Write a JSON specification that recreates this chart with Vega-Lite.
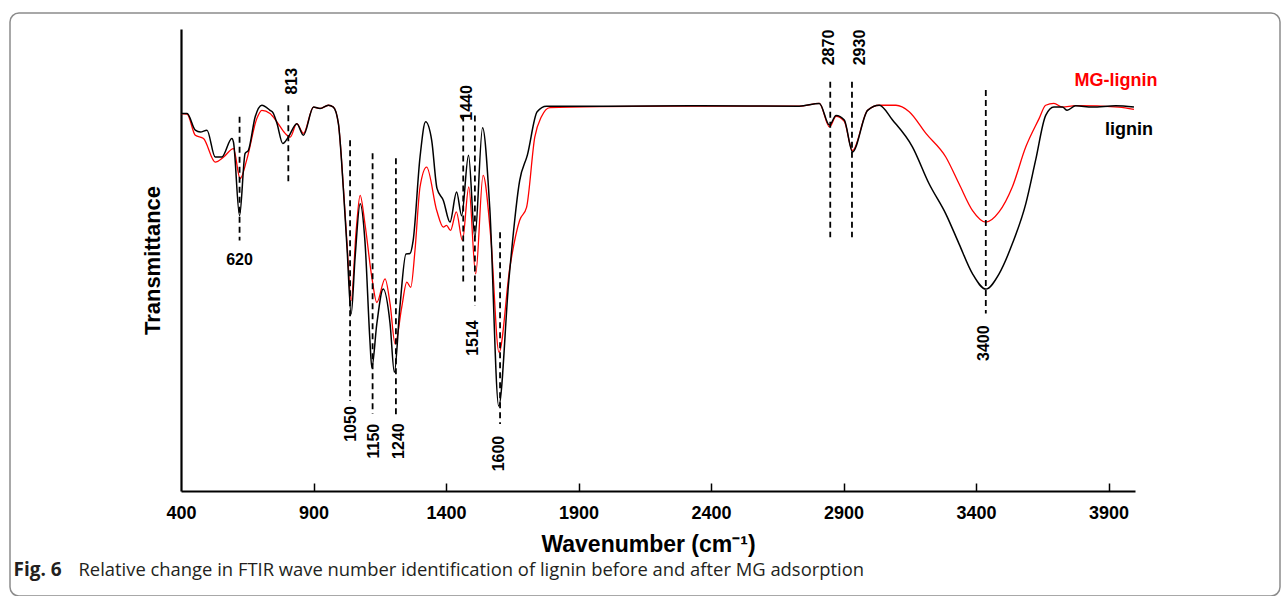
{
  "$schema": "https://vega.github.io/schema/vega-lite/v6.json",
  "width": 1270,
  "height": 583,
  "padding": {"left": 10, "top": 13, "right": 2, "bottom": 0},
  "autosize": {"type": "none"},
  "background": "white",
  "config": {
    "view": {"stroke": "#8c8c8c", "strokeWidth": 1.5, "cornerRadius": 9},
    "font": "Liberation Sans"
  },
  "datasets": {
    "spectra": [
      {"series": "lignin", "wn": 400, "t": 81.7},
      {"series": "lignin", "wn": 423, "t": 81.7},
      {"series": "lignin", "wn": 454, "t": 78.1},
      {"series": "lignin", "wn": 473, "t": 77.7},
      {"series": "lignin", "wn": 498, "t": 78.1},
      {"series": "lignin", "wn": 529, "t": 72.3},
      {"series": "lignin", "wn": 554, "t": 72.3},
      {"series": "lignin", "wn": 592, "t": 76.3},
      {"series": "lignin", "wn": 598, "t": 75.5},
      {"series": "lignin", "wn": 621, "t": 59.6},
      {"series": "lignin", "wn": 642, "t": 73.1},
      {"series": "lignin", "wn": 654, "t": 73.7},
      {"series": "lignin", "wn": 680, "t": 81.0},
      {"series": "lignin", "wn": 705, "t": 83.5},
      {"series": "lignin", "wn": 736, "t": 82.4},
      {"series": "lignin", "wn": 748, "t": 81.8},
      {"series": "lignin", "wn": 762, "t": 79.6},
      {"series": "lignin", "wn": 784, "t": 75.2},
      {"series": "lignin", "wn": 805, "t": 76.6},
      {"series": "lignin", "wn": 837, "t": 79.5},
      {"series": "lignin", "wn": 862, "t": 77.0},
      {"series": "lignin", "wn": 900, "t": 83.1},
      {"series": "lignin", "wn": 925, "t": 82.8},
      {"series": "lignin", "wn": 956, "t": 83.5},
      {"series": "lignin", "wn": 975, "t": 83.1},
      {"series": "lignin", "wn": 994, "t": 79.5},
      {"series": "lignin", "wn": 1013, "t": 65.1},
      {"series": "lignin", "wn": 1027, "t": 52.1},
      {"series": "lignin", "wn": 1042, "t": 38.3},
      {"series": "lignin", "wn": 1057, "t": 50.6},
      {"series": "lignin", "wn": 1076, "t": 62.2},
      {"series": "lignin", "wn": 1094, "t": 54.2},
      {"series": "lignin", "wn": 1113, "t": 32.5},
      {"series": "lignin", "wn": 1120, "t": 26.7},
      {"series": "lignin", "wn": 1139, "t": 36.2},
      {"series": "lignin", "wn": 1163, "t": 43.7},
      {"series": "lignin", "wn": 1189, "t": 36.2},
      {"series": "lignin", "wn": 1205, "t": 25.7},
      {"series": "lignin", "wn": 1226, "t": 39.8},
      {"series": "lignin", "wn": 1249, "t": 51.3},
      {"series": "lignin", "wn": 1264, "t": 51.4},
      {"series": "lignin", "wn": 1276, "t": 54.2},
      {"series": "lignin", "wn": 1302, "t": 72.3},
      {"series": "lignin", "wn": 1323, "t": 79.9},
      {"series": "lignin", "wn": 1346, "t": 75.9},
      {"series": "lignin", "wn": 1366, "t": 65.5},
      {"series": "lignin", "wn": 1390, "t": 62.9},
      {"series": "lignin", "wn": 1415, "t": 58.2},
      {"series": "lignin", "wn": 1440, "t": 64.7},
      {"series": "lignin", "wn": 1459, "t": 59.6},
      {"series": "lignin", "wn": 1485, "t": 72.7},
      {"series": "lignin", "wn": 1509, "t": 54.9},
      {"series": "lignin", "wn": 1538, "t": 78.6},
      {"series": "lignin", "wn": 1565, "t": 61.4},
      {"series": "lignin", "wn": 1599, "t": 18.4},
      {"series": "lignin", "wn": 1637, "t": 45.5},
      {"series": "lignin", "wn": 1678, "t": 67.2},
      {"series": "lignin", "wn": 1707, "t": 72.7},
      {"series": "lignin", "wn": 1744, "t": 82.1},
      {"series": "lignin", "wn": 1779, "t": 83.3},
      {"series": "lignin", "wn": 1980, "t": 83.3},
      {"series": "lignin", "wn": 2357, "t": 83.4},
      {"series": "lignin", "wn": 2733, "t": 83.3},
      {"series": "lignin", "wn": 2809, "t": 83.9},
      {"series": "lignin", "wn": 2847, "t": 79.2},
      {"series": "lignin", "wn": 2872, "t": 81.3},
      {"series": "lignin", "wn": 2903, "t": 80.3},
      {"series": "lignin", "wn": 2934, "t": 73.4},
      {"series": "lignin", "wn": 2991, "t": 82.4},
      {"series": "lignin", "wn": 3035, "t": 83.5},
      {"series": "lignin", "wn": 3085, "t": 80.3},
      {"series": "lignin", "wn": 3160, "t": 74.5},
      {"series": "lignin", "wn": 3223, "t": 66.5},
      {"series": "lignin", "wn": 3286, "t": 60.0},
      {"series": "lignin", "wn": 3336, "t": 53.5},
      {"series": "lignin", "wn": 3387, "t": 47.0},
      {"series": "lignin", "wn": 3437, "t": 43.7},
      {"series": "lignin", "wn": 3487, "t": 47.0},
      {"series": "lignin", "wn": 3537, "t": 53.5},
      {"series": "lignin", "wn": 3588, "t": 62.2},
      {"series": "lignin", "wn": 3625, "t": 71.6},
      {"series": "lignin", "wn": 3663, "t": 81.3},
      {"series": "lignin", "wn": 3694, "t": 83.1},
      {"series": "lignin", "wn": 3726, "t": 83.1},
      {"series": "lignin", "wn": 3744, "t": 82.4},
      {"series": "lignin", "wn": 3776, "t": 83.4},
      {"series": "lignin", "wn": 3839, "t": 83.1},
      {"series": "lignin", "wn": 3927, "t": 83.4},
      {"series": "lignin", "wn": 3996, "t": 83.1},
      {"series": "MG-lignin", "wn": 400, "t": 81.7},
      {"series": "MG-lignin", "wn": 423, "t": 81.6},
      {"series": "MG-lignin", "wn": 454, "t": 77.0},
      {"series": "MG-lignin", "wn": 485, "t": 76.3},
      {"series": "MG-lignin", "wn": 529, "t": 71.2},
      {"series": "MG-lignin", "wn": 561, "t": 72.3},
      {"series": "MG-lignin", "wn": 598, "t": 74.1},
      {"series": "MG-lignin", "wn": 623, "t": 67.6},
      {"series": "MG-lignin", "wn": 649, "t": 71.9},
      {"series": "MG-lignin", "wn": 686, "t": 80.6},
      {"series": "MG-lignin", "wn": 705, "t": 82.4},
      {"series": "MG-lignin", "wn": 736, "t": 81.7},
      {"series": "MG-lignin", "wn": 762, "t": 79.9},
      {"series": "MG-lignin", "wn": 793, "t": 77.4},
      {"series": "MG-lignin", "wn": 812, "t": 76.6},
      {"series": "MG-lignin", "wn": 837, "t": 79.5},
      {"series": "MG-lignin", "wn": 862, "t": 77.4},
      {"series": "MG-lignin", "wn": 900, "t": 83.1},
      {"series": "MG-lignin", "wn": 925, "t": 82.8},
      {"series": "MG-lignin", "wn": 956, "t": 83.5},
      {"series": "MG-lignin", "wn": 975, "t": 83.1},
      {"series": "MG-lignin", "wn": 994, "t": 79.5},
      {"series": "MG-lignin", "wn": 1013, "t": 65.5},
      {"series": "MG-lignin", "wn": 1027, "t": 53.1},
      {"series": "MG-lignin", "wn": 1042, "t": 41.2},
      {"series": "MG-lignin", "wn": 1061, "t": 56.4},
      {"series": "MG-lignin", "wn": 1076, "t": 64.0},
      {"series": "MG-lignin", "wn": 1094, "t": 57.9},
      {"series": "MG-lignin", "wn": 1120, "t": 46.3},
      {"series": "MG-lignin", "wn": 1139, "t": 40.8},
      {"series": "MG-lignin", "wn": 1170, "t": 45.9},
      {"series": "MG-lignin", "wn": 1189, "t": 40.5},
      {"series": "MG-lignin", "wn": 1208, "t": 31.8},
      {"series": "MG-lignin", "wn": 1233, "t": 39.8},
      {"series": "MG-lignin", "wn": 1252, "t": 45.2},
      {"series": "MG-lignin", "wn": 1267, "t": 44.1},
      {"series": "MG-lignin", "wn": 1283, "t": 52.1},
      {"series": "MG-lignin", "wn": 1302, "t": 65.8},
      {"series": "MG-lignin", "wn": 1327, "t": 70.1},
      {"series": "MG-lignin", "wn": 1365, "t": 60.7},
      {"series": "MG-lignin", "wn": 1390, "t": 57.1},
      {"series": "MG-lignin", "wn": 1402, "t": 57.5},
      {"series": "MG-lignin", "wn": 1417, "t": 56.4},
      {"series": "MG-lignin", "wn": 1439, "t": 60.4},
      {"series": "MG-lignin", "wn": 1462, "t": 54.2},
      {"series": "MG-lignin", "wn": 1486, "t": 65.8},
      {"series": "MG-lignin", "wn": 1512, "t": 47.0},
      {"series": "MG-lignin", "wn": 1540, "t": 68.3},
      {"series": "MG-lignin", "wn": 1569, "t": 54.9},
      {"series": "MG-lignin", "wn": 1600, "t": 30.0},
      {"series": "MG-lignin", "wn": 1641, "t": 48.4},
      {"series": "MG-lignin", "wn": 1678, "t": 58.6},
      {"series": "MG-lignin", "wn": 1704, "t": 61.4},
      {"series": "MG-lignin", "wn": 1735, "t": 76.6},
      {"series": "MG-lignin", "wn": 1760, "t": 81.0},
      {"series": "MG-lignin", "wn": 1792, "t": 83.0},
      {"series": "MG-lignin", "wn": 1980, "t": 83.2},
      {"series": "MG-lignin", "wn": 2357, "t": 83.3},
      {"series": "MG-lignin", "wn": 2733, "t": 83.3},
      {"series": "MG-lignin", "wn": 2809, "t": 83.9},
      {"series": "MG-lignin", "wn": 2847, "t": 78.8},
      {"series": "MG-lignin", "wn": 2872, "t": 81.1},
      {"series": "MG-lignin", "wn": 2903, "t": 80.0},
      {"series": "MG-lignin", "wn": 2934, "t": 73.7},
      {"series": "MG-lignin", "wn": 2991, "t": 82.4},
      {"series": "MG-lignin", "wn": 3035, "t": 83.5},
      {"series": "MG-lignin", "wn": 3098, "t": 83.5},
      {"series": "MG-lignin", "wn": 3148, "t": 82.1},
      {"series": "MG-lignin", "wn": 3211, "t": 77.4},
      {"series": "MG-lignin", "wn": 3286, "t": 72.3},
      {"series": "MG-lignin", "wn": 3336, "t": 66.5},
      {"series": "MG-lignin", "wn": 3387, "t": 60.7},
      {"series": "MG-lignin", "wn": 3437, "t": 58.2},
      {"series": "MG-lignin", "wn": 3487, "t": 60.4},
      {"series": "MG-lignin", "wn": 3537, "t": 65.8},
      {"series": "MG-lignin", "wn": 3588, "t": 74.5},
      {"series": "MG-lignin", "wn": 3638, "t": 80.6},
      {"series": "MG-lignin", "wn": 3663, "t": 83.5},
      {"series": "MG-lignin", "wn": 3694, "t": 83.9},
      {"series": "MG-lignin", "wn": 3726, "t": 83.1},
      {"series": "MG-lignin", "wn": 3776, "t": 83.4},
      {"series": "MG-lignin", "wn": 3939, "t": 83.1},
      {"series": "MG-lignin", "wn": 3996, "t": 82.6}
    ],
    "peaks": [
      {"label": "620", "rx": 621, "top": 81.0, "bot": 54.2, "tx": 621, "ty": 49.9},
      {"label": "813", "rx": 805, "top": 83.5, "bot": 66.6, "tx": 819, "ty": 88.7},
      {"label": "1050", "rx": 1038, "top": 75.9, "bot": 19.5, "tx": 1042, "ty": 14.5},
      {"label": "1150", "rx": 1123, "top": 73.1, "bot": 16.7, "tx": 1128, "ty": 10.8},
      {"label": "1240", "rx": 1211, "top": 72.0, "bot": 15.8, "tx": 1223, "ty": 10.8},
      {"label": "1440", "rx": 1465, "top": 81.3, "bot": 44.5, "tx": 1478, "ty": 84.0},
      {"label": "1514", "rx": 1509, "top": 81.3, "bot": 40.1, "tx": 1500, "ty": 33.1},
      {"label": "1600", "rx": 1604, "top": 56.0, "bot": 14.5, "tx": 1599, "ty": 8.1},
      {"label": "2870", "rx": 2850, "top": 88.6, "bot": 54.9, "tx": 2847, "ty": 96.0},
      {"label": "2930", "rx": 2932, "top": 88.6, "bot": 54.9, "tx": 2962, "ty": 96.0},
      {"label": "3400", "rx": 3437, "top": 86.8, "bot": 38.4, "tx": 3431, "ty": 32.0}
    ],
    "names": [
      {"series": "MG-lignin", "nx": 3928, "ny": 88.7},
      {"series": "lignin", "nx": 3977, "ny": 78.1}
    ]
  },
  "resolve": {"axis": {"x": "independent"}},
  "layer": [
    {
      "data": {"name": "spectra"},
      "transform": [{"filter": "datum.series === 'MG-lignin'"}],
      "mark": {"type": "line", "interpolate": "monotone", "strokeWidth": 1.3},
      "encoding": {
        "x": {
          "field": "wn", "type": "quantitative",
          "scale": {"domain": [400, 4000], "range": [171, 1125], "nice": false, "zero": false},
          "axis": {
            "orient": "bottom", "offset": -105,
            "values": [400, 900, 1400, 1900, 2400, 2900, 3400, 3900],
            "format": "d",
            "grid": false,
            "domainColor": "#000000", "domainWidth": 2.2,
            "ticks": false,
            "labelFont": "Liberation Sans", "labelFontSize": 18, "labelFontWeight": "bold",
            "labelColor": "#000000", "labelPadding": 13, "labelFlush": false, "labelOverlap": false,
            "title": "Wavenumber (cm⁻¹)",
            "titleFont": "Liberation Sans", "titleFontSize": 23, "titleFontWeight": "bold",
            "titleColor": "#000000", "titleX": 638, "titleY": 60,
            "titleAlign": "center", "titleBaseline": "alphabetic"
          }
        },
        "y": {
          "field": "t", "type": "quantitative", "title": "Transmittance",
          "scale": {"domain": [0, 100], "range": [478, 16], "nice": false, "zero": false},
          "axis": {
            "orient": "left", "offset": -171, "grid": false,
            "domainColor": "#000000", "domainWidth": 2.2,
            "ticks": false, "labels": false,
            "title": "Transmittance",
            "titleFont": "Liberation Sans", "titleFontSize": 22, "titleFontWeight": "bold",
            "titleColor": "#000000", "titlePadding": 17
          }
        },
        "color": {
          "field": "series", "type": "nominal",
          "scale": {"domain": ["MG-lignin", "lignin"], "range": ["#ff0000", "#000000"]},
          "legend": null
        }
      }
    },
    {
      "data": {"name": "spectra"},
      "transform": [{"filter": "datum.series === 'lignin'"}],
      "mark": {"type": "line", "interpolate": "monotone", "strokeWidth": 1.5},
      "encoding": {
        "x": {"field": "wn", "type": "quantitative",
          "scale": {"domain": [400, 4000], "range": [171, 1125], "nice": false, "zero": false},
          "axis": null},
        "y": {"field": "t", "type": "quantitative", "title": "Transmittance",
          "scale": {"domain": [0, 100], "range": [478, 16], "nice": false, "zero": false}},
        "color": {
          "field": "series", "type": "nominal",
          "scale": {"domain": ["MG-lignin", "lignin"], "range": ["#ff0000", "#000000"]},
          "legend": null
        }
      }
    },
    {
      "data": {"name": "peaks"},
      "mark": {"type": "rule", "strokeDash": [6, 4], "strokeWidth": 1.8, "color": "#000000"},
      "encoding": {
        "x": {"field": "rx", "type": "quantitative",
          "scale": {"domain": [400, 4000], "range": [171, 1125], "nice": false, "zero": false},
          "axis": {
            "orient": "bottom", "offset": 0, "grid": false,
            "domain": false, "ticks": false, "labels": false,
            "title": "Relative change in FTIR wave number identification of lignin before and after MG adsorption",
            "titleFont": "Open Sans", "titleFontSize": 18.4, "titleFontWeight": "normal",
            "titleColor": "#231f20", "titleX": 68, "titleY": -21,
            "titleAlign": "left", "titleBaseline": "alphabetic"
          }},
        "y": {"field": "top", "type": "quantitative", "title": "Transmittance",
          "scale": {"domain": [0, 100], "range": [478, 16], "nice": false, "zero": false}},
        "y2": {"field": "bot"}
      }
    },
    {
      "data": {"name": "peaks"},
      "transform": [{"filter": "datum.label !== '620'"}],
      "mark": {"type": "text", "angle": 270, "align": "center", "baseline": "middle",
        "font": "Liberation Sans", "fontSize": 16, "fontWeight": "bold", "color": "#000000"},
      "encoding": {
        "x": {"field": "tx", "type": "quantitative",
          "scale": {"domain": [400, 4000], "range": [171, 1125], "nice": false, "zero": false},
          "axis": {
            "orient": "bottom", "offset": 0, "grid": false,
            "domain": false, "ticks": false, "labels": false,
            "title": "Fig. 6",
            "titleFont": "Open Sans", "titleFontSize": 19, "titleFontWeight": "bold",
            "titleColor": "#231f20", "titleX": 3, "titleY": -21,
            "titleAlign": "left", "titleBaseline": "alphabetic"
          }},
        "y": {"field": "ty", "type": "quantitative", "title": "Transmittance",
          "scale": {"domain": [0, 100], "range": [478, 16], "nice": false, "zero": false}},
        "text": {"field": "label"}
      }
    },
    {
      "data": {"name": "peaks"},
      "transform": [{"filter": "datum.label === '620'"}],
      "mark": {"type": "text", "align": "center", "baseline": "middle",
        "font": "Liberation Sans", "fontSize": 16, "fontWeight": "bold", "color": "#000000"},
      "encoding": {
        "x": {"field": "tx", "type": "quantitative",
          "scale": {"domain": [400, 4000], "range": [171, 1125], "nice": false, "zero": false},
          "axis": {
            "orient": "top", "offset": -478, "grid": false,
            "domain": false, "labels": false, "title": null,
            "values": [900, 1400, 1900, 2400, 2900, 3400, 3900],
            "ticks": true, "tickSize": 8, "tickWidth": 1.5, "tickColor": "#000000"
          }},
        "y": {"field": "ty", "type": "quantitative", "title": "Transmittance",
          "scale": {"domain": [0, 100], "range": [478, 16], "nice": false, "zero": false}},
        "text": {"field": "label"}
      }
    },
    {
      "data": {"name": "names"},
      "mark": {"type": "text", "align": "center", "baseline": "middle",
        "font": "Liberation Sans", "fontSize": 18, "fontWeight": "bold"},
      "encoding": {
        "x": {"field": "nx", "type": "quantitative",
          "scale": {"domain": [400, 4000], "range": [171, 1125], "nice": false, "zero": false},
          "axis": null},
        "y": {"field": "ny", "type": "quantitative", "title": "Transmittance",
          "scale": {"domain": [0, 100], "range": [478, 16], "nice": false, "zero": false}},
        "text": {"field": "series"},
        "color": {
          "field": "series", "type": "nominal",
          "scale": {"domain": ["MG-lignin", "lignin"], "range": ["#ff0000", "#000000"]},
          "legend": null
        }
      }
    }
  ]
}
